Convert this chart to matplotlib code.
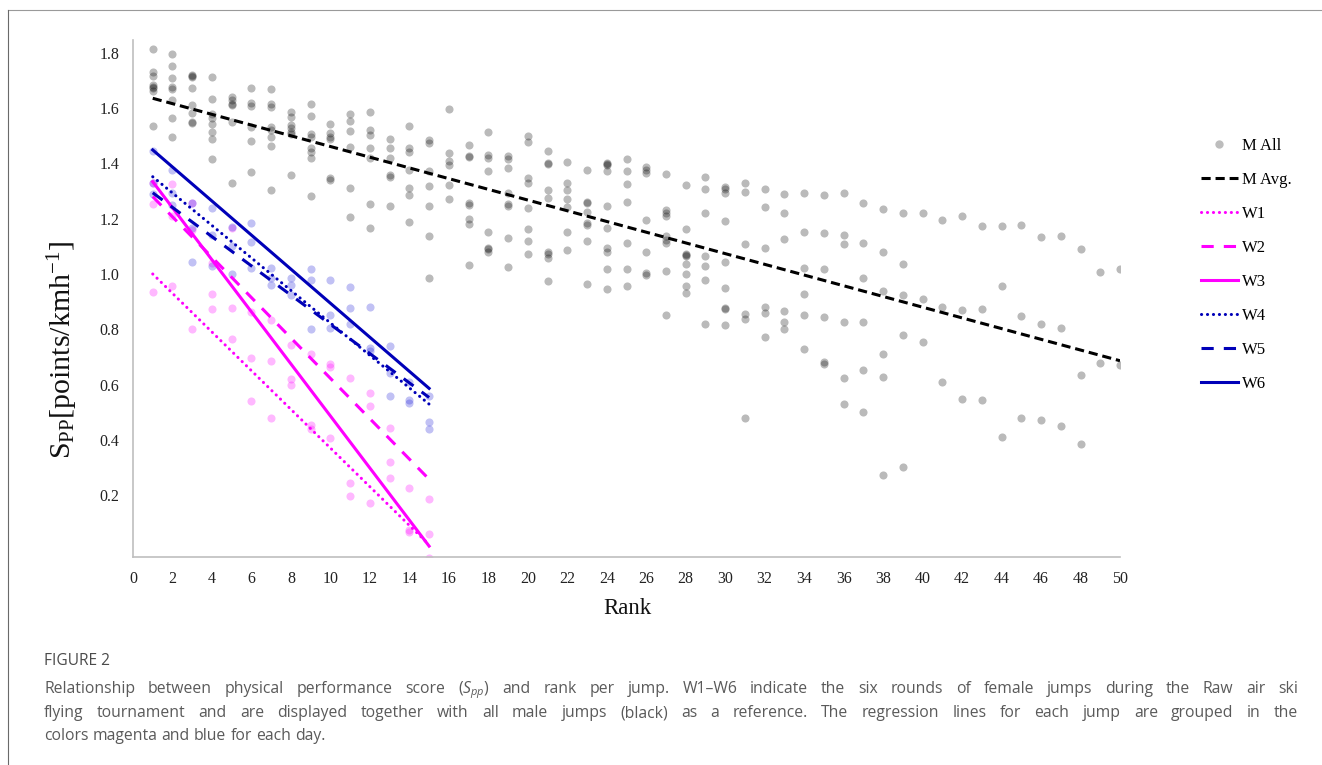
import matplotlib
matplotlib.use("Agg")
import matplotlib.pyplot as plt
from matplotlib.lines import Line2D
from matplotlib.transforms import IdentityTransform
import numpy as np

plt.rcParams['font.family'] = ['Liberation Serif', 'DejaVu Serif']
plt.rcParams['mathtext.fontset'] = 'custom'
plt.rcParams['mathtext.rm'] = 'Liberation Serif'
plt.rcParams['mathtext.it'] = 'Open Sans:italic'
plt.rcParams['mathtext.bf'] = 'Liberation Serif:bold'

# ---------------- data ----------------
ranks = list(range(1, 51))
male_spp = [
    [1.813, 1.730, 1.717, 1.685, 1.678, 1.672, 1.664, 1.536],
    [1.796, 1.754, 1.708, 1.678, 1.668, 1.630, 1.566, 1.497],
    [1.722, 1.716, 1.712, 1.674, 1.612, 1.581, 1.551, 1.545],
    [1.714, 1.635, 1.579, 1.563, 1.543, 1.515, 1.489, 1.416],
    [1.642, 1.630, 1.615, 1.612, 1.551, 1.328],
    [1.672, 1.618, 1.608, 1.531, 1.480, 1.369],
    [1.668, 1.614, 1.606, 1.531, 1.521, 1.497, 1.465, 1.303],
    [1.588, 1.569, 1.539, 1.527, 1.515, 1.507, 1.358],
    [1.615, 1.572, 1.507, 1.495, 1.455, 1.443, 1.419, 1.282],
    [1.542, 1.512, 1.497, 1.487, 1.349, 1.340],
    [1.579, 1.555, 1.519, 1.458, 1.311, 1.208],
    [1.585, 1.521, 1.503, 1.455, 1.421, 1.253, 1.165],
    [1.487, 1.455, 1.419, 1.358, 1.350, 1.246],
    [1.537, 1.455, 1.443, 1.376, 1.310, 1.286, 1.187],
    [1.485, 1.475, 1.373, 1.318, 1.246, 1.138, 0.984],
    [1.597, 1.437, 1.410, 1.393, 1.321, 1.272],
    [1.467, 1.428, 1.422, 1.256, 1.250, 1.198, 1.180, 1.033],
    [1.515, 1.431, 1.419, 1.374, 1.151, 1.095, 1.090, 1.081],
    [1.427, 1.415, 1.385, 1.292, 1.252, 1.246, 1.131, 1.026],
    [1.500, 1.479, 1.346, 1.328, 1.238, 1.162, 1.120, 1.072],
    [1.445, 1.403, 1.397, 1.304, 1.274, 1.080, 1.074, 1.057, 0.975],
    [1.404, 1.331, 1.304, 1.270, 1.244, 1.153, 1.087],
    [1.376, 1.262, 1.256, 1.226, 1.183, 1.177, 1.120, 0.963],
    [1.403, 1.398, 1.394, 1.374, 1.247, 1.168, 1.093, 1.078, 1.017, 0.947],
    [1.415, 1.372, 1.326, 1.261, 1.111, 1.018, 0.958],
    [1.386, 1.376, 1.367, 1.195, 1.078, 1.002, 0.998],
    [1.361, 1.232, 1.222, 1.211, 1.137, 1.123, 1.111, 1.011, 0.852],
    [1.321, 1.162, 1.074, 1.070, 1.065, 1.036, 1.000, 0.957, 0.932],
    [1.350, 1.308, 1.220, 1.066, 1.029, 0.978, 0.819],
    [1.316, 1.306, 1.294, 1.192, 1.042, 0.949, 0.876, 0.872, 0.814],
    [1.328, 1.298, 1.109, 0.855, 0.837, 0.478],
    [1.306, 1.241, 1.093, 0.882, 0.858, 0.773],
    [1.290, 1.220, 1.126, 0.867, 0.828, 0.800],
    [1.292, 1.152, 1.021, 0.927, 0.852, 0.727],
    [1.285, 1.150, 1.019, 0.846, 0.680, 0.674],
    [1.292, 1.141, 1.109, 0.828, 0.623, 0.528],
    [1.256, 1.112, 0.987, 0.828, 0.652, 0.502],
    [1.237, 1.081, 0.940, 0.712, 0.626, 0.272],
    [1.220, 1.035, 0.924, 0.778, 0.300],
    [1.222, 0.908, 0.754],
    [1.196, 0.882, 0.608],
    [1.211, 0.870, 0.546],
    [1.175, 0.873, 0.544],
    [1.174, 0.957, 0.411],
    [1.176, 0.848, 0.477],
    [1.133, 0.818, 0.473],
    [1.136, 0.805, 0.451],
    [1.089, 0.634, 0.385],
    [1.007, 0.677],
    [1.019, 0.669],
]

w_ranks = list(range(1, 16))
# W1-W3 jumps (magenta), three per rank
women_magenta_spp = [
    [1.330, 1.252, 0.934], [1.325, 1.210, 0.958], [1.256, 1.160, 0.801],
    [1.040, 0.926, 0.872], [1.165, 0.876, 0.763], [0.864, 0.695, 0.540],
    [0.833, 0.686, 0.480], [0.743, 0.620, 0.600], [0.709, 0.453, 0.440],
    [0.675, 0.665, 0.405], [0.622, 0.242, 0.196], [0.568, 0.523, 0.170],
    [0.441, 0.321, 0.260], [0.224, 0.075, 0.065], [0.186, 0.059, -0.029],
]
# W4-W6 jumps (blue), three per rank
women_blue_spp = [
    [1.445, 1.330, 1.290], [1.376, 1.292, 1.250], [1.256, 1.165, 1.042],
    [1.238, 1.140, 1.030], [1.171, 1.100, 1.000], [1.186, 1.115, 1.020],
    [1.020, 0.984, 0.960], [0.984, 0.960, 0.924], [1.017, 0.978, 0.802],
    [0.978, 0.852, 0.806], [0.952, 0.876, 0.818], [0.882, 0.731, 0.720],
    [0.741, 0.640, 0.560], [0.610, 0.544, 0.533], [0.560, 0.463, 0.438],
]

# regression lines (value at first and last rank)
m_avg_ranks = [1, 50]
m_avg_values = [1.636, 0.686]
w_names = ['W1', 'W2', 'W3', 'W4', 'W5', 'W6']
w_line_ranks = [1, 15]
w_at_first = [1.000, 1.280, 1.334, 1.352, 1.294, 1.449]
w_at_last = [0.020, 0.257, 0.015, 0.529, 0.553, 0.586]

x_ticks = list(range(0, 51, 2))
y_ticks = [0.2, 0.4, 0.6, 0.8, 1.0, 1.2, 1.4, 1.6, 1.8]

# ---------------- figure ----------------
W, H = 1322, 765
fig = plt.figure(figsize=(W / 100, H / 100), dpi=100)
fig.patch.set_facecolor('white')

def fx(px):
    return px / W

def fy(py):
    return 1 - py / H

ax = fig.add_axes([fx(133), fy(557), fx(1120) - fx(133), fy(40) - fy(557)])

MAG = '#FF00FF'
BLUE = '#0000B8'

mx = np.concatenate([[r] * len(v) for r, v in zip(ranks, male_spp)])
my = np.concatenate(male_spp)
ax.scatter(mx, my, s=34, color='black', alpha=0.27, linewidths=0, zorder=2)

px_ = np.concatenate([[r] * len(v) for r, v in zip(w_ranks, women_magenta_spp)])
py_ = np.concatenate(women_magenta_spp)
ax.scatter(px_, py_, s=34, color=MAG, alpha=0.28, linewidths=0, zorder=2)

bx = np.concatenate([[r] * len(v) for r, v in zip(w_ranks, women_blue_spp)])
by = np.concatenate(women_blue_spp)
ax.scatter(bx, by, s=34, color=(0.1, 0.1, 0.85), alpha=0.27, linewidths=0, zorder=2)

lw = 2.2
ax.plot(m_avg_ranks, m_avg_values, color='black', lw=lw, dashes=(3.0, 1.6), zorder=3)

styles = [
    dict(color=MAG, dashes=(0.05, 1.9), dash_capstyle='round'),
    dict(color=MAG, dashes=(4.0, 3.3)),
    dict(color=MAG, linestyle='-'),
    dict(color=BLUE, dashes=(0.05, 1.9), dash_capstyle='round'),
    dict(color=BLUE, dashes=(4.0, 3.3)),
    dict(color=BLUE, linestyle='-'),
]
for name, a, b, st in zip(w_names, w_at_first, w_at_last, styles):
    ax.plot(w_line_ranks, [a, b], lw=lw, zorder=4, **st)

ax.set_xlim(0, 50)
ax.set_ylim(-0.0244, 1.847)
ax.set_xticks(x_ticks)
ax.set_xticklabels([str(t) for t in x_ticks])
ax.set_yticks(y_ticks)
ax.set_yticklabels([f'{t:.1f}' for t in y_ticks])
ax.tick_params(length=0, labelsize=11.5, pad=10, colors='#222222')
for s in ['top', 'right']:
    ax.spines[s].set_visible(False)
for s in ['left', 'bottom']:
    ax.spines[s].set_color('#BFBFBF')
    ax.spines[s].set_linewidth(1.2)

fig.text(fx(627), fy(608), 'Rank', ha='center', va='center', fontsize=16.5, color='#111111')
fig.text(fx(63), fy(350), r'$\mathrm{S_{PP}[points/kmh^{-1}]}$', rotation=90,
         ha='center', va='center', fontsize=21.5, color='#111111')

# legend
handles = [Line2D([], [], linestyle='none', marker='o', markersize=6,
                  markerfacecolor='#BDBDBD', markeredgewidth=0)]
handles.append(Line2D([], [], color='black', lw=lw, dashes=(3.0, 1.6)))
for st in styles:
    handles.append(Line2D([], [], lw=lw, **st))
labels = ['M All', 'M Avg.'] + w_names
fig.legend(handles, labels, loc='upper left', bbox_to_anchor=(fx(1201), fy(138)),
           frameon=False, fontsize=12, handlelength=2.2, handletextpad=0.25,
           labelspacing=1.08, borderpad=0, borderaxespad=0, numpoints=1)

# frame lines
fig.add_artist(Line2D([fx(8), 1], [fy(10), fy(10)], color='#9A9A9A', lw=0.8))
fig.add_artist(Line2D([fx(8), fx(8)], [fy(10), 0], color='#6A6A6A', lw=0.8))

# caption
cap_color = '#5A5A5A'
fig.text(fx(44), fy(661), 'FIGURE 2', fontsize=11.2, color='#4A4A4A',
         family='Open Sans', ha='left', va='center')

renderer = fig.canvas.get_renderer()
cap_lines = [
    'Relationship between physical performance score ($\\mathit{S}_{\\mathit{pp}}$) and rank per jump. '
    'W1\u2013W6 indicate the six rounds of female jumps during the Raw air ski',
    'flying tournament and are displayed together with all male jumps (black) as a reference. '
    'The regression lines for each jump are grouped in the',
    'colors magenta and blue for each day.',
]
cap_y = [688, 712, 735]
x0, x1 = 44, 1298
kw = dict(fontsize=11.3, color=cap_color, family='Open Sans', va='baseline', ha='left',
          transform=IdentityTransform())
sp_a = fig.text(0, 0, 'x x', **kw)
sp_b = fig.text(0, 0, 'xx', **kw)
space_w = sp_a.get_window_extent(renderer).width - sp_b.get_window_extent(renderer).width
sp_a.remove(); sp_b.remove()
for i, (line, yy) in enumerate(zip(cap_lines, cap_y)):
    words = line.split(' ')
    ts = [fig.text(0, H - yy - 5, w, **kw) for w in words]
    widths = [t.get_window_extent(renderer).width for t in ts]
    if i < len(cap_lines) - 1:
        gap = (x1 - x0 - sum(widths)) / (len(words) - 1)
    else:
        gap = space_w
    x = x0
    for t, wdt in zip(ts, widths):
        t.set_x(x)
        x += wdt + gap

fig.savefig('out.png', dpi=100, facecolor='white')
